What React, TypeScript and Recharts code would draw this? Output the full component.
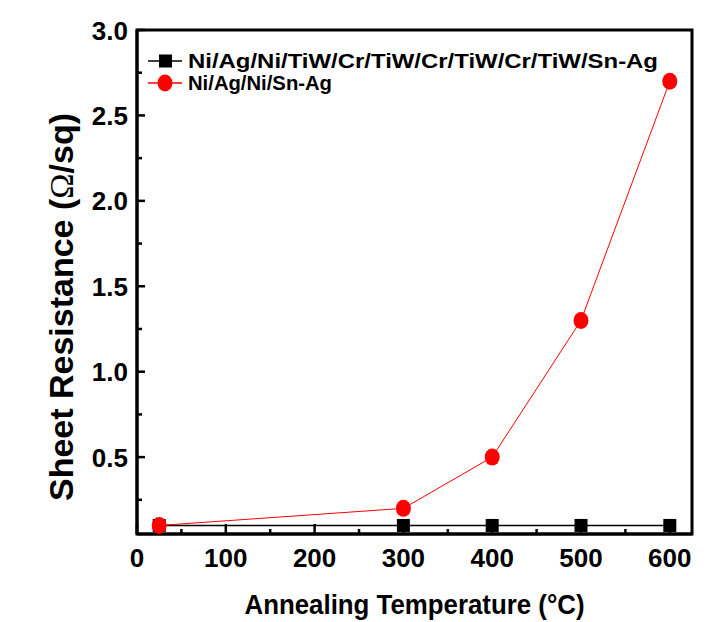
import React from 'react';
import { LineChart, Line, XAxis, YAxis, ReferenceArea, Legend, Label } from 'recharts';

// annealing temperatures (°C), first point is room temperature
const temps = [25, 300, 400, 500, 600];
// sheet resistance (ohm/sq)
const multiLayer = [0.1, 0.1, 0.1, 0.1, 0.1];
const niAgNi = [0.1, 0.2, 0.5, 1.3, 2.7];

const seriesNames = ['Ni/Ag/Ni/TiW/Cr/TiW/Cr/TiW/Cr/TiW/Sn-Ag', 'Ni/Ag/Ni/Sn-Ag'];
const seriesKeys = ['multi', 'simple'];

const xTicks = [0, 50, 100, 150, 200, 250, 300, 350, 400, 450, 500, 550, 600];
const yTicks = [0.25, 0.5, 0.75, 1.0, 1.25, 1.5, 1.75, 2.0, 2.25, 2.5, 2.75, 3.0];

const data = temps.map((t, i) => ({ temp: t, multi: multiLayer[i], simple: niAgNi[i] }));

const FONT = '"Liberation Sans", Arial, sans-serif';
const RED = '#ff0000';

const XTick = (props: any) => {
    const { x, y, payload } = props;
    const major = payload.value % 100 === 0;
    return (
        <g>
            <line x1={x} x2={x} y1={y} y2={y - (major ? 10 : 5)} stroke="#000" strokeWidth={2.5} />
            {major && (
                <text x={x} y={y + 33} textAnchor="middle" fontSize={26} fontWeight="bold" fontFamily={FONT} fill="#000">
                    {payload.value}
                </text>
            )}
        </g>
    );
};

const YTick = (props: any) => {
    const { x, y, payload } = props;
    const v = payload.value;
    const major = Math.abs(v * 2 - Math.round(v * 2)) < 1e-6;
    return (
        <g>
            <line x1={x} x2={x + (major ? 8 : 5)} y1={y} y2={y} stroke="#000" strokeWidth={2.5} />
            {major && (
                <text x={x - 9} y={y + 9.5} textAnchor="end" fontSize={26} fontWeight="bold" fontFamily={FONT} fill="#000">
                    {v.toFixed(1)}
                </text>
            )}
        </g>
    );
};

const SquareDot = (props: any) => {
    const { cx, cy, index } = props;
    return <rect key={`sq-${index}`} x={cx - 6.5} y={cy - 6.5} width={13} height={13} fill="#000" />;
};

const CircleDot = (props: any) => {
    const { cx, cy, index } = props;
    return <ellipse key={`ci-${index}`} cx={cx} cy={cy} rx={7.5} ry={8.5} fill={RED} />;
};

const renderLegend = (props: any) => {
    const payload = [...(props.payload || [])].sort(
        (a: any, b: any) => seriesKeys.indexOf(a.dataKey) - seriesKeys.indexOf(b.dataKey)
    );
    return (
        <svg width={560} height={50}>
            {payload.map((entry: any, i: number) => {
                const cy = 11 + i * 22;
                const isMulti = entry.dataKey === 'multi';
                return (
                    <g key={entry.value}>
                        <line x1={10} x2={44} y1={cy} y2={cy} stroke={entry.color} strokeWidth={1.5} />
                        {isMulti
                            ? <rect x={21} y={cy - 6.5} width={13} height={13} fill="#000" />
                            : <ellipse cx={27} cy={cy} rx={7.5} ry={8.5} fill={RED} />}
                        <text
                            x={50}
                            y={cy + 7}
                            fontSize={20}
                            fontWeight="bold"
                            fontFamily={FONT}
                            fill="#000"
                            textLength={isMulti ? 470 : 144}
                            lengthAdjust="spacingAndGlyphs"
                        >
                            {entry.value}
                        </text>
                    </g>
                );
            })}
        </svg>
    );
};

export default function App() {
    return (
        <div style={{ width: 713, height: 614 }}>
            <LineChart width={713} height={614} data={data} margin={{ top: 22, right: 29, left: 29, bottom: 8 }}>
                <XAxis
                    dataKey="temp"
                    type="number"
                    domain={[0, 625]}
                    ticks={xTicks}
                    interval={0}
                    height={80}
                    tickSize={0}
                    tickMargin={0}
                    tickLine={false}
                    axisLine={{ stroke: '#000', strokeWidth: 3 }}
                    tick={<XTick />}
                    allowDataOverflow
                >
                    <Label
                        content={(p: any) => {
                            const vb = p.viewBox;
                            return (
                                <text x={vb.x + vb.width / 2} y={vb.y + 80} textAnchor="middle" fontSize={28} fontWeight="bold" fontFamily={FONT} fill="#000" textLength={340} lengthAdjust="spacingAndGlyphs">
                                    Annealing Temperature (°C)
                                </text>
                            );
                        }}
                    />
                </XAxis>
                <YAxis
                    type="number"
                    domain={[0.05, 3]}
                    ticks={yTicks}
                    interval={0}
                    width={100}
                    tickSize={0}
                    tickMargin={0}
                    tickLine={false}
                    axisLine={{ stroke: '#000', strokeWidth: 3 }}
                    tick={<YTick />}
                    allowDataOverflow
                >
                    <Label
                        content={(p: any) => {
                            const vb = p.viewBox;
                            const tx = vb.x + 36;
                            const ty = vb.y + vb.height / 2 + 25;
                            return (
                                <text x={tx} y={ty} transform={`rotate(-90, ${tx}, ${ty})`} textAnchor="middle" fontSize={34} fontWeight="bold" fontFamily={FONT} fill="#000">
                                    Sheet Resistance (
                                    <tspan fontWeight="normal" fontFamily='"Liberation Serif", serif'>Ω</tspan>
                                    /sq)
                                </text>
                            );
                        }}
                    />
                </YAxis>
                <ReferenceArea x1={0} x2={625} y1={0.05} y2={3} fill="none" stroke="#000" strokeWidth={3} />
                <Line
                    dataKey="multi"
                    name={seriesNames[0]}
                    stroke="#000"
                    strokeWidth={1.5}
                    dot={<SquareDot />}
                    activeDot={false}
                    isAnimationActive={false}
                />
                <Line
                    dataKey="simple"
                    name={seriesNames[1]}
                    stroke={RED}
                    strokeWidth={1}
                    dot={<CircleDot />}
                    activeDot={false}
                    isAnimationActive={false}
                />
                <Legend
                    content={renderLegend}
                    layout="vertical"
                    align="center"
                    verticalAlign="middle"
                    wrapperStyle={{ left: 130, top: 42, width: 560, height: 50 }}
                />
            </LineChart>
        </div>
    );
}
